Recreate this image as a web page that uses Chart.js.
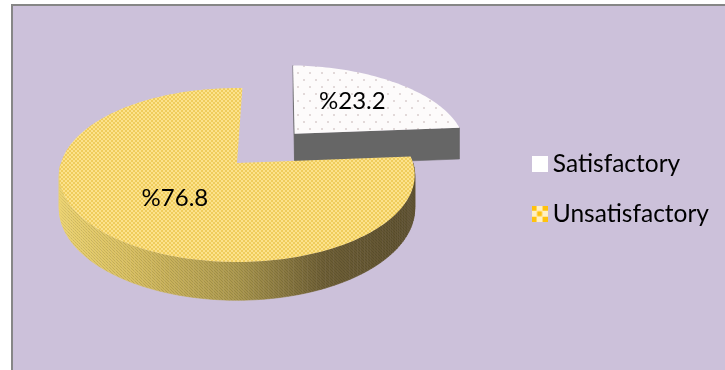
<!DOCTYPE html>
<html>
<head>
<meta charset="utf-8">
<style>
  html, body { margin: 0; padding: 0; background: #fff; }
  #frame { position: absolute; left: 11px; top: 4px; width: 712px; height: 364px;
           border-left: 2px solid #868686; border-top: 2px solid #868686; background: #CCC1DA; }
  canvas { display: block; }
</style>
<script src="https://cdn.jsdelivr.net/npm/chart.js@4/dist/chart.umd.js"></script>
</head>
<body>
<div id="frame"><canvas id="pie" width="712" height="364"></canvas></div>
<script>
// Survey result shares, in percent
const categories = ['Satisfactory', 'Unsatisfactory'];
const shares = [23.2, 76.8];
const sliceOffset = [72, 0];
const labelRadius = [0.56, 0.5];
const labelNudge = [[-1, -3], [2, 3]];

// Camera used to lay the pie flat: centre, radii, perspective strength, rim depth
const view = { cx: 224, cy: 157, rx: 176, ry: 85.3, persp: 0.138, depth: 33 };
const fontFamily = 'Lato, "Open Sans", sans-serif';

function tile(w, h, paint) {
  const c = document.createElement('canvas');
  c.width = w; c.height = h;
  paint(c.getContext('2d'));
  return c;
}
const ctxOf = document.getElementById('pie').getContext('2d');

const dotsTile = tile(12, 14, g => {
  g.fillStyle = '#FDFBFB'; g.fillRect(0, 0, 12, 14);
  g.fillStyle = '#E2D9D9';
  g.fillRect(2, 3, 2, 2); g.fillRect(8, 10, 2, 2);
});
const weaveTile = tile(4, 4, g => {
  g.fillStyle = '#FCE28C'; g.fillRect(0, 0, 4, 4);
  g.fillStyle = '#EFCC5C';
  g.fillRect(0, 0, 2, 2); g.fillRect(2, 2, 2, 2);
});
const rimTile = tile(3, 3, g => {
  g.fillStyle = 'rgba(0,0,0,0.12)';
  g.fillRect(0, 0, 1, 1); g.fillRect(1, 1, 1, 1); g.fillRect(2, 2, 1, 1);
});

const sliceFills = [ctxOf.createPattern(dotsTile, 'repeat'), ctxOf.createPattern(weaveTile, 'repeat')];

const swatches = [
  tile(16, 16, g => { g.fillStyle = '#FFFFFF'; g.fillRect(0, 0, 16, 16); }),
  tile(16, 16, g => {
    g.fillStyle = '#FFF0C4'; g.fillRect(0, 0, 16, 16);
    g.fillStyle = '#FFC20E';
    for (let r = 0; r < 3; r++) for (let c = 0; c < 3; c++) {
      if ((r + c) % 2 === 0) g.fillRect(c * 5.5, r * 5.5, 5, 5);
    }
  })
];

function project(u, v, z) {
  const k = 1 / (1 - view.persp * v);
  return { x: view.cx + view.rx * u * k, y: view.cy + view.ry * v * k + z * k };
}

// Outline of a slice in unit-disc coordinates, taken from the arc element's geometry
function outline(arc, offset) {
  const mid = (arc.startAngle + arc.endAngle) / 2;
  const ox = Math.cos(mid) * offset / arc.outerRadius;
  const oy = Math.sin(mid) * offset / arc.outerRadius;
  const pts = [[ox, oy]];
  const steps = Math.max(8, Math.ceil((arc.endAngle - arc.startAngle) * 40));
  for (let i = 0; i <= steps; i++) {
    const a = arc.startAngle + (arc.endAngle - arc.startAngle) * i / steps;
    pts.push([ox + Math.cos(a), oy + Math.sin(a)]);
  }
  return { pts, ox, oy, mid };
}

function rimStyle(g, index) {
  if (index === 0) return '#666666';
  const grad = g.createLinearGradient(view.cx - view.rx, 0, view.cx + view.rx, 0);
  grad.addColorStop(0, '#ECD370');
  grad.addColorStop(0.2, '#D9C062');
  grad.addColorStop(0.5, '#AC994F');
  grad.addColorStop(0.75, '#6E5F36');
  grad.addColorStop(1, '#5E5130');
  return grad;
}

const pie3d = {
  id: 'pie3d',
  beforeDatasetDraw(chart, args) {
    const g = chart.ctx;
    const arcs = args.meta.data;
    const order = arcs.map((a, i) => i).sort((a, b) =>
      Math.sin((arcs[a].startAngle + arcs[a].endAngle) / 2) -
      Math.sin((arcs[b].startAngle + arcs[b].endAngle) / 2));
    for (const i of order) {
      const arc = arcs[i];
      const shape = outline(arc, sliceOffset[i]);
      const top = shape.pts.map(p => project(p[0], p[1], 0));
      const low = shape.pts.map(p => project(p[0], p[1], view.depth));
      const wall = rimStyle(g, i);
      const weave = g.createPattern(rimTile, 'repeat');
      const reflex = arc.endAngle - arc.startAngle > Math.PI;
      const last = top.length - 1;
      for (let s = 0; s <= last; s++) {
        const n = (s + 1) % top.length;
        const cutFace = s === 0 || s === last;
        // A reflex slice hides its cut faces; outer rim only shows on the near half
        if (cutFace && reflex) continue;
        if (!cutFace) {
          const a = arc.startAngle + (arc.endAngle - arc.startAngle) * (s - 0.5) / (last - 1);
          if (Math.sin(a) < 0) continue;
        }
        g.beginPath();
        g.moveTo(top[s].x, top[s].y); g.lineTo(top[n].x, top[n].y);
        g.lineTo(low[n].x, low[n].y); g.lineTo(low[s].x, low[s].y);
        g.closePath();
        g.fillStyle = wall; g.strokeStyle = wall; g.lineWidth = 0.6;
        g.fill(); g.stroke();
        if (i === 1) { g.fillStyle = weave; g.fill(); }
      }
      g.beginPath();
      top.forEach((p, k) => k ? g.lineTo(p.x, p.y) : g.moveTo(p.x, p.y));
      g.closePath();
      g.fillStyle = arc.options.backgroundColor;
      g.fill();
    }
    // Value labels sit on the top face of each slice
    g.fillStyle = '#000';
    g.font = '24px ' + fontFamily;
    g.textAlign = 'center';
    g.textBaseline = 'middle';
    arcs.forEach((arc, i) => {
      const shape = outline(arc, sliceOffset[i]);
      const p = project(shape.ox + Math.cos(shape.mid) * labelRadius[i],
                        shape.oy + Math.sin(shape.mid) * labelRadius[i], 0);
      g.fillText('%' + shares[i], p.x + labelNudge[i][0], p.y + labelNudge[i][1]);
    });
    return false;
  }
};

new Chart(ctxOf, {
  type: 'pie',
  data: {
    labels: categories,
    datasets: [{
      data: shares,
      backgroundColor: sliceFills,
      borderWidth: 0,
      offset: sliceOffset,
      rotation: 2
    }]
  },
  plugins: [pie3d],
  options: {
    responsive: false,
    animation: false,
    layout: { padding: { right: 6, top: 2 } },
    plugins: {
      tooltip: { enabled: false },
      legend: {
        position: 'right',
        labels: {
          usePointStyle: true,
          pointStyleWidth: 2,
          padding: 25,
          color: '#000',
          font: { family: fontFamily, size: 24.5 },
          generateLabels: () => categories.map((text, i) => ({
            text, pointStyle: swatches[i], fontColor: '#000', lineWidth: 0, datasetIndex: 0, index: i
          }))
        }
      }
    }
  }
});
</script>
</body>
</html>
